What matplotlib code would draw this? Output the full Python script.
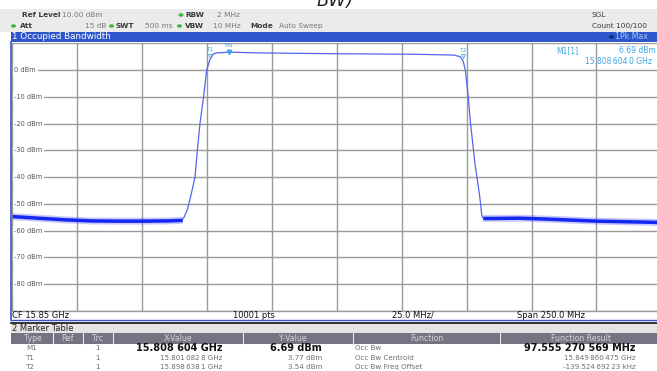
import numpy as np
import matplotlib
matplotlib.use('Agg')
import matplotlib.pyplot as plt
from matplotlib.patches import Rectangle, Circle
from matplotlib.lines import Line2D
from matplotlib.transforms import blended_transform_factory

W, H = 657, 371

# spectrum trace, frequency in GHz, level in dBm
floor_left_f = [15.725, 15.735, 15.745, 15.755, 15.765, 15.775, 15.785, 15.7905]
floor_left_db = [-54.6, -55.2, -55.8, -56.2, -56.3, -56.3, -56.2, -56.0]
signal_f = [15.7905, 15.7912, 15.7925, 15.7938, 15.7954, 15.7963, 15.7973, 15.7987,
            15.7999, 15.8011, 15.8023, 15.8035, 15.8086, 15.82, 15.85, 15.88,
            15.895, 15.8975, 15.8986, 15.8995, 15.9006, 15.9015, 15.9023, 15.9032,
            15.9041, 15.9050, 15.9058, 15.9062]
signal_db = [-56.0, -55.0, -52.0, -47.0, -40.0, -30.0, -20.0, -10.0,
             0.0, 3.77, 5.8, 6.4, 6.69, 6.4, 6.1, 5.9,
             5.6, 5.0, 3.54, 0.0, -10.0, -20.0, -27.0, -35.0,
             -41.0, -47.0, -54.0, -55.3]
floor_right_f = [15.9062, 15.91, 15.92, 15.93, 15.94, 15.95, 15.96, 15.975]
floor_right_db = [-55.3, -55.3, -55.2, -55.5, -55.9, -56.3, -56.5, -56.8]
noise_spread = [0.65, 1.3]

# markers
marker_names = ['M1', 'T1', 'T2']
marker_freq = [15.808604, 15.8010828, 15.8986381]
marker_level = [6.69, 3.77, 3.54]

# grid / scale
y_levels = [0, -10, -20, -30, -40, -50, -60, -70, -80]
f_start, f_stop = 15.725, 15.975
ref_level, bottom_level = 10, -90

# marker table
tbl_type = ['M1', 'T1', 'T2']
tbl_trc = ['1', '1', '1']
tbl_x = ['15.808 604 GHz', '15.801\u2009082\u20098 GHz', '15.898\u2009638\u20091 GHz']
tbl_y = ['6.69 dBm', '3.77 dBm', '3.54 dBm']
tbl_func = ['Occ Bw', 'Occ Bw Centroid', 'Occ Bw Freq Offset']
tbl_res = ['97.555 270 569 MHz', '15.849\u2009860\u2009475 GHz', '-139.524\u2009692\u200923 kHz']

BLUE_BAR = '#2F57CC'
MK = '#3DA6E6'
TRACE = '#1426F2'


def fx(x):
    return x / W


def fy(y):
    return 1 - y / H


fig = plt.figure(figsize=(W / 100, H / 100), dpi=100)


def box(x0, y0, x1, y1, color, z=1):
    fig.add_artist(Rectangle((fx(x0), fy(y1)), (x1 - x0) / W, (y1 - y0) / H,
                             transform=fig.transFigure, facecolor=color,
                             edgecolor='none', zorder=z))


def line(x0, y0, x1, y1, color, lw=1.0, z=3):
    fig.add_artist(Line2D([fx(x0), fx(x1)], [fy(y0), fy(y1)], color=color,
                          lw=lw, transform=fig.transFigure, zorder=z))


def txt(x, y, s, size=5.3, color='#333333', ha='left', weight='normal', **kw):
    fig.text(fx(x), fy(y), s, fontsize=size, color=color, ha=ha, va='center',
             fontweight=weight, zorder=5, **kw)


# cut-off title above the screenshot
fig.text(fx(335), fy(6), 'BW)', fontsize=13, style='italic', ha='center',
         va='baseline', color='#222222')

# header band
box(0, 9, W, 31.7, '#EBEBEB')
green = '#3CB83C'
for gx, gy in [(181, 15), (13.5, 26), (111.5, 26), (179.5, 26)]:
    fig.add_artist(Circle((fx(gx), fy(gy)), 1.8 / W, transform=fig.transFigure,
                          color=green, zorder=4))
txt(22, 15, 'Ref Level', weight='bold', color='#3A3A3A')
txt(62, 15, '10.00 dBm', color='#7A7A7A')
txt(185, 15, 'RBW', weight='bold', color='#3A3A3A')
txt(217, 15, '2 MHz', color='#7A7A7A')
txt(20, 26, 'Att', weight='bold', color='#3A3A3A')
txt(85, 26, '15 dB', color='#7A7A7A')
txt(116, 26, 'SWT', weight='bold', color='#3A3A3A')
txt(145, 26, '500 ms', color='#7A7A7A')
txt(185, 26, 'VBW', weight='bold', color='#3A3A3A')
txt(213, 26, '10 MHz', color='#7A7A7A')
txt(250, 26, 'Mode', weight='bold', color='#3A3A3A')
txt(279, 26, 'Auto Sweep', color='#7A7A7A')
txt(592, 15, 'SGL', color='#3A3A3A')
txt(592, 26, 'Count 100/100', color='#3A3A3A')

# blue title bar
box(11, 31.7, W, 41.8, BLUE_BAR)
txt(12.5, 36.6, '1 Occupied Bandwidth', size=6.3, color='white')
fig.add_artist(Circle((fx(611.5), fy(36.8)), 1.7 / W, transform=fig.transFigure,
                      facecolor='none', edgecolor='#0B1C55', lw=0.8, zorder=4))
txt(615, 36.8, '1Pk Max', size=5.6, color='#A9C6F5')

# plot area
ax_l, ax_r, ax_t, ax_b = 12.2, 661.4, 43.3, 310.8
ax = fig.add_axes([fx(ax_l), fy(ax_b), (ax_r - ax_l) / W, (ax_b - ax_t) / H])
ax.set_xlim(f_start, f_stop)
ax.set_ylim(bottom_level, ref_level)
ax.set_xticks(np.linspace(f_start, f_stop, 11))
ax.set_yticks(list(range(bottom_level, ref_level + 1, 10)))
ax.grid(True, color='#9A9A9A', lw=1.0)
ax.tick_params(length=0, labelbottom=False, labelleft=False)
for s in ax.spines.values():
    s.set_visible(False)
ax.set_axisbelow(True)

lbl_tr = blended_transform_factory(ax.transAxes, ax.transData)
for lv in y_levels:
    ax.text((14.5 - ax_l) / (ax_r - ax_l), lv, f'{lv} dBm', transform=lbl_tr,
            fontsize=4.8, color='#555555', ha='left', va='center', zorder=3,
            bbox=dict(boxstyle='square,pad=0.25', fc='white', ec='none'))

for fr, dbs in [(floor_left_f, floor_left_db), (floor_right_f, floor_right_db)]:
    fr = np.array(fr)
    dbs = np.array(dbs)
    ax.fill_between(fr, dbs - noise_spread[1], dbs + noise_spread[1],
                    color='#5A66F5', alpha=0.35, lw=0, zorder=4)
    ax.fill_between(fr, dbs - noise_spread[0], dbs + noise_spread[0],
                    color=TRACE, lw=0, zorder=4)
ax.plot(signal_f, signal_db, color='#5563F0', lw=0.9, zorder=4)

# trace markers
for name, f, lv in zip(marker_names, marker_freq, marker_level):
    if name == 'M1':
        ax.plot([f], [lv], marker='v', ms=3.2, color=MK, linestyle='none', zorder=6)
        ax.annotate(name, (f, lv), xytext=(0, 4.5), textcoords='offset points',
                    fontsize=4.3, color=MK, ha='center', va='center', zorder=6)
    else:
        ax.plot([f], [lv + 1.6], marker='v', ms=2.8, mfc='none', mec=MK, mew=0.6,
                linestyle='none', zorder=6)
        ax.annotate(name, (f, lv), xytext=(0, 7.3), textcoords='offset points',
                    fontsize=4.3, color=MK, ha='center', va='center', zorder=6)

txt(556, 50.5, 'M1[1]', size=5.5, color=MK)
txt(619, 50.5, f'{marker_level[0]:.2f} dBm', size=5.5, color=MK)
txt(585, 61.5, '15.808\u2009604\u20090 GHz', size=5.5, color=MK)

# window frame
line(11, 41.8, 11, 319.5, '#3553C8', lw=1.2)
line(11, 319.5, W, 319.5, '#3553C8', lw=1.0)
line(11.5, ax_b, W, ax_b, '#9A9A9A', lw=1.0)

# footer row
txt(12.5, 315.3, 'CF 15.85 GHz', size=6.0, color='#111111')
txt(233, 315.3, '10001 pts', size=6.0, color='#111111')
txt(392, 315.3, '25.0 MHz/', size=6.0, color='#111111')
txt(517, 315.3, 'Span 250.0 MHz', size=6.0, color='#111111')

# marker table
line(11, 322.5, W, 322.5, '#111111', lw=1.2)
box(11, 323, W, 333.3, '#E4E4E4')
txt(12.5, 328.2, '2 Marker Table', size=6.0, color='#222222')
box(11, 333.3, W, 343.5, '#747482')
for sx in [53, 83, 113, 243, 353, 500]:
    line(sx, 333.3, sx, 343.5, '#E8E8EE', lw=0.8)
hy = 338.6
hc = '#D4D4DC'
txt(33, hy, 'Type', size=5.6, color=hc, ha='center')
txt(67, hy, 'Ref', size=5.6, color=hc, ha='center')
txt(97.5, hy, 'Trc', size=5.6, color=hc, ha='center')
txt(178, hy, 'X-Value', size=5.6, color=hc, ha='center')
txt(293, hy, 'Y-Value', size=5.6, color=hc, ha='center')
txt(427, hy, 'Function', size=5.6, color=hc, ha='center')
txt(581, hy, 'Function Result', size=5.6, color=hc, ha='center')

row_y = [348.3, 357.6, 366.7]
for i, ry in enumerate(row_y):
    bold = i == 0
    vc = '#111111' if bold else '#6E6E6E'
    vs = 7.0 if bold else 5.1
    vw = 'bold' if bold else 'normal'
    txt(26, ry, tbl_type[i], size=5.1, color='#6E6E6E')
    txt(97.5, ry, tbl_trc[i], size=5.1, color='#6E6E6E', ha='center')
    txt(222, ry, tbl_x[i], size=vs, color=vc, ha='right', weight=vw)
    txt(322, ry, tbl_y[i], size=vs, color=vc, ha='right', weight=vw)
    txt(355, ry, tbl_func[i], size=5.1, color='#6E6E6E')
    txt(636, ry, tbl_res[i], size=vs, color=vc, ha='right', weight=vw)

fig.savefig('out.png', dpi=100)
